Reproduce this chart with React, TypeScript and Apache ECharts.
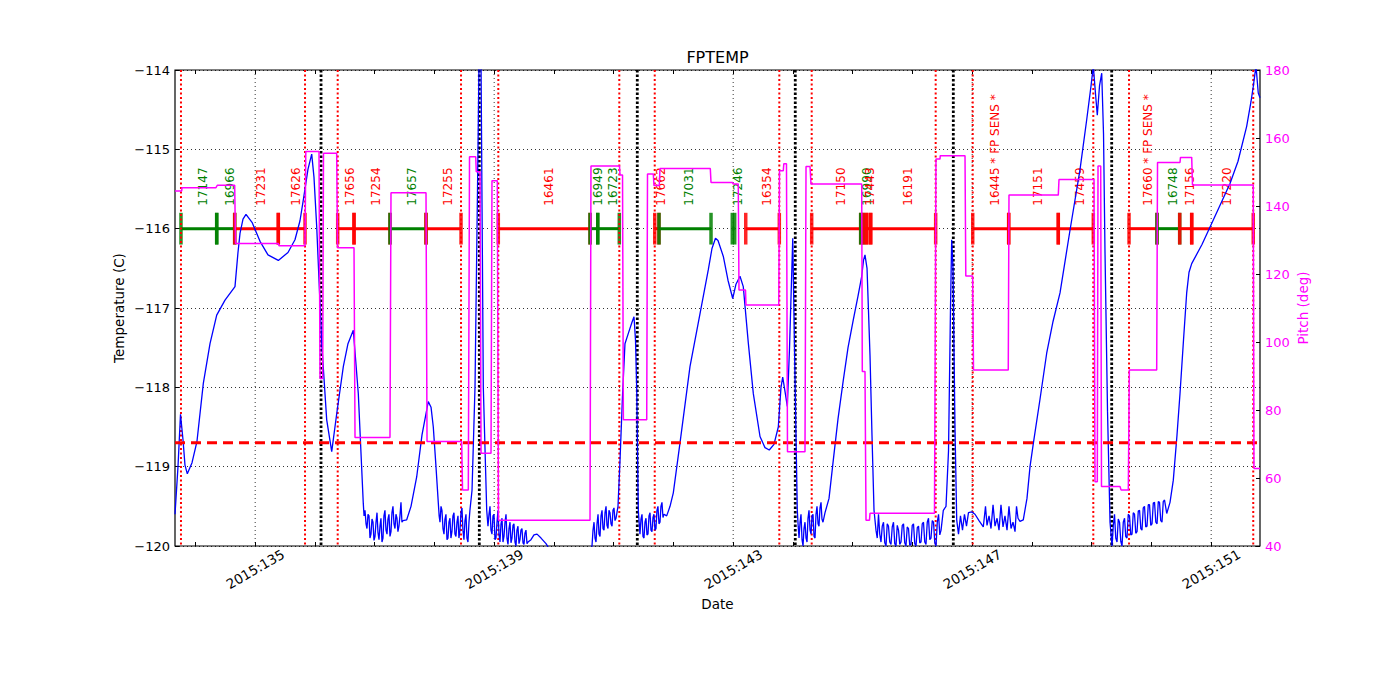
import React, { useEffect, useRef } from "react";
import * as echarts from "echarts";

const FONT = "DejaVu Sans";
const RED = "#ff0000";
const GREEN = "#008000";
const BLUE = "#0000ff";
const MAGENTA = "#ff00ff";

// x axis: day of year 2015 (fractional)
const X_MIN = 133.658;
const X_MAX = 151.817;
const DAY_TICKS = [134, 135, 136, 137, 138, 139, 140, 141, 142, 143, 144, 145, 146, 147, 148, 149, 150, 151];
const LABEL_DAYS = [135, 139, 143, 147, 151];

const TEMP_MIN = -120;
const TEMP_MAX = -114;
const PITCH_MIN = 40;
const PITCH_MAX = 180;
const TEMP_LIMIT = -118.7;
const GANTT_Y = -116;
const LABEL_BASE = -115.71;

// FPTEMP (deg C) vs day
const FPTEMP: [number, number][] = [
  [133.658, -119.6], [133.708, -119.0], [133.750, -118.34], [133.792, -118.66], [133.825, -118.98],
  [133.864, -119.09], [133.943, -118.95], [134.026, -118.68], [134.132, -117.95], [134.244, -117.45],
  [134.356, -117.09], [134.495, -116.9], [134.662, -116.73], [134.712, -116.3], [134.746, -116.06],
  [134.796, -115.88], [134.846, -115.82], [134.947, -115.92], [135.081, -116.16], [135.214, -116.33],
  [135.387, -116.40], [135.549, -116.3], [135.666, -116.14], [135.750, -115.9], [135.805, -115.64],
  [135.884, -115.25], [135.946, -115.06], [135.984, -115.35], [136.030, -115.98], [136.114, -117.45],
  [136.197, -118.41], [136.281, -118.81], [136.365, -118.33], [136.475, -117.74], [136.553, -117.45],
  [136.642, -117.28], [136.726, -118.08], [136.809, -119.46],
  [136.822, -119.62], [136.838, -119.55], [136.855, -119.72], [136.871, -119.78], [136.888, -119.6],
  [136.905, -119.62], [136.921, -119.9], [136.938, -119.85], [136.955, -119.66], [136.972, -119.70],
  [136.988, -119.93], [137.005, -119.88], [137.022, -119.7], [137.039, -119.58], [137.055, -119.83],
  [137.072, -119.92], [137.089, -119.75], [137.105, -119.65], [137.122, -119.95], [137.139, -119.9],
  [137.155, -119.62], [137.172, -119.55], [137.189, -119.8], [137.206, -119.85], [137.222, -119.66],
  [137.239, -119.6], [137.256, -119.88], [137.273, -119.82], [137.289, -119.58], [137.306, -119.5],
  [137.323, -119.72], [137.340, -119.78], [137.356, -119.6], [137.373, -119.65], [137.389, -119.82],
  [137.406, -119.75], [137.423, -119.62], [137.440, -119.45], [137.456, -119.7], [137.473, -119.68],
  [137.536, -119.67], [137.608, -119.5], [137.703, -119.13], [137.792, -118.6], [137.897, -118.18],
  [137.943, -118.25], [137.981, -118.5], [138.026, -119.0], [138.065, -119.46],
  [138.079, -119.62], [138.093, -119.7], [138.110, -119.5], [138.126, -119.55], [138.143, -119.78],
  [138.160, -119.85], [138.176, -119.66], [138.193, -119.6], [138.210, -119.92], [138.227, -119.9],
  [138.243, -119.7], [138.260, -119.65], [138.276, -119.9], [138.293, -119.82], [138.310, -119.62],
  [138.327, -119.58], [138.343, -119.85], [138.360, -119.88], [138.377, -119.7], [138.394, -119.62],
  [138.410, -119.9], [138.427, -119.8], [138.444, -119.58], [138.461, -119.52], [138.477, -119.8],
  [138.494, -119.92], [138.511, -119.68], [138.528, -119.6], [138.544, -119.9], [138.561, -119.95],
  [138.578, -119.7], [138.594, -119.55],
  [138.629, -119.3], [138.679, -118.0], [138.721, -115.5], [138.751, -113.6], [138.779, -113.8],
  [138.818, -118.0], [138.875, -119.55],
  [138.896, -119.75], [138.913, -119.6], [138.930, -119.5], [138.946, -119.8], [138.963, -119.85],
  [138.980, -119.62], [138.997, -119.6], [139.013, -119.92], [139.030, -119.9], [139.047, -119.7],
  [139.064, -119.55], [139.080, -119.85], [139.097, -119.95], [139.114, -119.72], [139.131, -119.65],
  [139.147, -119.95], [139.164, -119.88], [139.181, -119.7], [139.198, -119.6], [139.214, -119.9],
  [139.231, -119.98], [139.248, -119.78], [139.265, -119.7], [139.281, -119.96], [139.298, -119.9],
  [139.315, -119.74], [139.331, -119.72], [139.348, -119.95], [139.365, -120.0], [139.381, -119.8],
  [139.398, -119.75], [139.415, -119.97], [139.432, -119.92], [139.448, -119.8], [139.465, -119.78],
  [139.482, -119.96], [139.499, -119.98], [139.515, -119.84], [139.532, -119.8], [139.549, -119.97],
  [139.566, -119.95],
  [139.616, -119.92], [139.666, -119.86], [139.717, -119.85], [139.784, -119.9], [139.867, -119.97],
  [139.934, -120.05], [140.018, -120.15], [140.269, -120.3], [140.520, -120.25], [140.604, -120.1],
  [140.637, -120.0], [140.654, -119.8], [140.671, -119.7], [140.687, -119.9], [140.704, -119.95],
  [140.721, -119.72], [140.738, -119.6], [140.754, -119.85], [140.771, -119.88], [140.788, -119.62],
  [140.805, -119.55], [140.821, -119.78], [140.838, -119.8], [140.855, -119.58], [140.872, -119.5],
  [140.888, -119.74], [140.905, -119.78], [140.921, -119.55], [140.938, -119.58], [140.955, -119.72],
  [140.972, -119.75], [140.988, -119.55], [141.005, -119.52], [141.022, -119.68], [141.039, -119.65],
  [141.072, -119.5],
  [141.106, -118.92], [141.148, -118.1], [141.189, -117.45], [141.245, -117.32], [141.302, -117.19],
  [141.340, -117.11], [141.365, -117.4], [141.385, -118.0], [141.412, -119.55],
  [141.426, -119.7], [141.440, -119.85], [141.457, -119.66], [141.474, -119.6], [141.490, -119.88],
  [141.507, -119.9], [141.524, -119.7], [141.541, -119.65], [141.557, -119.86], [141.574, -119.85],
  [141.591, -119.62], [141.608, -119.58], [141.624, -119.8], [141.641, -119.82], [141.658, -119.64],
  [141.674, -119.6], [141.691, -119.8], [141.708, -119.78], [141.724, -119.55], [141.741, -119.5],
  [141.758, -119.72], [141.775, -119.7], [141.791, -119.5], [141.808, -119.45], [141.825, -119.64],
  [141.842, -119.6],
  [141.887, -119.62], [141.943, -119.5], [141.998, -119.33], [142.110, -118.7], [142.277, -117.74],
  [142.445, -117.07], [142.583, -116.52], [142.645, -116.25], [142.704, -116.12], [142.746, -116.15],
  [142.835, -116.35], [142.913, -116.65], [142.992, -116.88], [143.047, -116.7], [143.114, -116.6],
  [143.169, -116.73], [143.253, -117.44], [143.337, -118.08], [143.449, -118.62], [143.532, -118.76],
  [143.604, -118.79], [143.683, -118.72], [143.755, -118.5], [143.800, -118.0], [143.829, -117.87],
  [143.867, -118.05], [143.906, -118.24], [143.943, -117.5], [143.997, -116.12], [144.026, -117.5],
  [144.073, -119.55],
  [144.088, -119.75], [144.102, -119.9], [144.119, -119.7], [144.135, -119.6], [144.152, -119.92],
  [144.169, -120.0], [144.185, -119.78], [144.202, -119.7], [144.219, -119.9], [144.236, -119.95],
  [144.252, -119.65], [144.269, -119.55], [144.286, -119.8], [144.303, -119.85], [144.319, -119.62],
  [144.336, -119.6], [144.353, -119.88], [144.370, -119.9], [144.386, -119.6], [144.403, -119.5],
  [144.420, -119.72], [144.436, -119.75], [144.453, -119.52], [144.470, -119.45], [144.486, -119.66],
  [144.503, -119.7],
  [144.537, -119.58], [144.604, -119.4], [144.675, -118.92], [144.754, -118.4], [144.843, -117.91],
  [144.922, -117.5], [145.010, -117.15], [145.089, -116.85], [145.151, -116.6], [145.181, -116.4],
  [145.206, -116.33], [145.240, -116.5], [145.290, -117.6], [145.323, -118.6], [145.357, -119.55],
  [145.390, -119.8], [145.411, -119.9], [145.432, -119.6], [145.453, -119.85], [145.474, -119.95],
  [145.495, -119.75], [145.516, -119.7], [145.537, -119.96], [145.558, -120.0], [145.578, -119.72],
  [145.599, -119.75], [145.620, -119.95], [145.641, -119.98], [145.662, -119.76], [145.683, -119.7],
  [145.704, -119.97], [145.725, -120.0], [145.746, -119.74], [145.767, -119.8], [145.788, -119.98],
  [145.809, -119.95], [145.830, -119.74], [145.851, -119.72], [145.871, -119.96], [145.892, -120.0],
  [145.913, -119.76], [145.934, -119.78], [145.955, -119.99], [145.976, -119.98], [145.997, -119.74],
  [146.018, -119.72], [146.039, -119.97], [146.060, -120.0], [146.081, -119.77], [146.102, -119.75],
  [146.123, -119.96], [146.144, -119.95], [146.164, -119.72], [146.185, -119.7], [146.206, -119.95],
  [146.227, -119.98], [146.248, -119.7], [146.269, -119.65], [146.290, -119.92], [146.311, -119.9],
  [146.332, -119.68], [146.353, -119.7], [146.374, -119.96], [146.395, -120.0], [146.416, -119.7],
  [146.437, -119.6], [146.458, -119.86], [146.479, -119.8],
  [146.517, -119.55], [146.562, -119.5], [146.604, -118.8], [146.637, -117.0], [146.657, -116.14],
  [146.679, -116.5], [146.712, -118.5], [146.741, -119.67],
  [146.771, -119.85], [146.804, -119.62], [146.838, -119.8], [146.871, -119.6], [146.905, -119.75],
  [146.938, -119.58],
  [146.992, -119.57], [147.047, -119.6], [147.114, -119.68], [147.186, -119.76],
  [147.223, -119.5], [147.248, -119.74], [147.282, -119.62], [147.315, -119.78], [147.349, -119.48],
  [147.382, -119.75], [147.416, -119.65], [147.449, -119.8], [147.482, -119.48], [147.516, -119.76],
  [147.549, -119.62], [147.583, -119.8], [147.616, -119.5], [147.650, -119.78], [147.683, -119.7],
  [147.717, -119.82], [147.742, -119.5], [147.767, -119.65],
  [147.800, -119.69], [147.855, -119.67], [147.917, -119.4], [147.968, -119.0], [148.023, -118.71],
  [148.135, -118.15], [148.247, -117.57], [148.353, -117.17], [148.470, -116.81], [148.637, -116.02],
  [148.804, -115.26], [148.916, -114.63], [148.989, -114.2], [149.027, -113.95], [149.064, -114.3],
  [149.094, -114.57], [149.131, -114.2], [149.168, -114.04], [149.198, -114.8], [149.223, -116.3],
  [149.265, -118.3], [149.307, -119.7],
  [149.340, -120.0], [149.361, -119.75], [149.382, -119.6], [149.403, -119.9], [149.424, -119.95],
  [149.445, -119.66], [149.466, -119.7], [149.487, -119.94], [149.508, -120.0], [149.529, -119.7],
  [149.550, -119.65], [149.570, -119.88], [149.591, -119.9], [149.612, -119.6], [149.633, -119.62],
  [149.654, -119.86], [149.675, -119.85], [149.696, -119.58], [149.717, -119.6], [149.738, -119.84],
  [149.759, -119.82], [149.780, -119.56], [149.801, -119.55], [149.822, -119.78], [149.842, -119.8],
  [149.863, -119.52], [149.884, -119.5], [149.905, -119.76], [149.926, -119.75], [149.947, -119.48],
  [149.968, -119.48], [149.989, -119.74], [150.010, -119.72], [150.031, -119.46], [150.052, -119.45],
  [150.073, -119.7], [150.094, -119.72], [150.115, -119.44], [150.135, -119.45], [150.156, -119.68],
  [150.177, -119.7], [150.198, -119.44], [150.219, -119.42],
  [150.256, -119.59], [150.311, -119.45], [150.366, -119.17], [150.428, -118.6], [150.478, -118.08],
  [150.537, -117.4], [150.590, -116.81], [150.629, -116.55], [150.674, -116.44], [150.846, -116.2],
  [151.035, -115.89], [151.181, -115.65], [151.315, -115.43], [151.449, -115.15], [151.594, -114.71],
  [151.666, -114.4], [151.704, -114.21], [151.750, -113.95], [151.788, -114.29], [151.817, -114.35],
];

// Pitch (deg) vs day
const PITCH: [number, number][] = [
  [133.658, 144.4], [133.770, 144.4], [133.775, 145.4], [134.344, 145.4], [134.366, 146.1],
  [134.657, 146.1], [134.671, 129.0], [135.387, 129.0], [135.399, 128.3], [135.834, 128.3],
  [135.847, 156.0], [136.068, 156.0], [136.085, 89.3], [136.130, 89.3], [136.143, 155.5],
  [136.364, 155.5], [136.378, 127.7], [136.654, 127.7], [136.671, 71.9], [137.256, 71.9],
  [137.273, 143.9], [137.859, 143.9], [137.876, 70.7], [138.456, 70.7], [138.470, 56.5],
  [138.567, 56.5], [138.587, 154.5], [138.691, 154.5], [138.700, 150.1], [138.763, 150.1],
  [138.780, 67.3], [138.947, 67.3], [138.963, 147.4], [139.052, 147.4], [139.072, 47.6],
  [140.604, 47.6], [140.620, 151.8], [141.097, 151.8], [141.106, 149.1], [141.148, 149.1],
  [141.162, 77.1], [141.553, 77.1], [141.566, 149.4], [141.663, 149.4], [141.675, 146.0],
  [141.763, 146.0], [141.775, 151.0], [142.617, 151.0], [142.629, 146.9], [142.992, 146.9],
  [142.997, 146.5], [143.085, 146.5], [143.097, 115.3], [143.206, 115.3], [143.214, 110.9],
  [143.763, 110.9], [143.775, 150.4], [143.839, 150.4], [143.847, 152.4], [143.892, 152.4],
  [143.909, 67.7], [144.202, 67.7], [144.219, 151.6], [144.286, 151.6], [144.302, 146.5],
  [145.151, 146.5], [145.161, 91.3], [145.206, 91.3], [145.223, 47.6], [145.281, 47.6],
  [145.290, 49.6], [146.369, 49.6], [146.394, 153.8], [146.461, 153.8], [146.466, 154.8],
  [146.880, 154.8], [146.893, 119.4], [147.008, 119.4], [147.022, 91.8], [147.604, 91.8],
  [147.616, 143.2], [148.441, 143.2], [148.453, 147.8], [149.039, 147.8], [149.055, 58.9],
  [149.094, 58.9], [149.106, 151.8], [149.151, 151.8], [149.164, 57.5], [149.474, 57.5],
  [149.491, 56.5], [149.613, 56.5], [149.630, 91.8], [150.088, 91.8], [150.102, 152.8],
  [150.478, 152.8], [150.486, 154.3], [150.674, 154.3], [150.687, 146.2], [151.704, 146.2],
  [151.716, 62.8], [151.817, 62.8],
];

// Observations (obsid bars at -116)
const OBS_START = [
  133.758, 134.356, 134.657, 135.387, 136.381, 136.654, 137.256, 137.859, 139.069, 140.604,
  140.733, 141.687, 141.758, 142.985, 143.210, 144.314, 145.134, 145.178, 145.235, 145.301,
  147.009, 147.611, 148.441, 149.625, 150.093, 150.473, 150.674,
];
const OBS_STOP = [
  134.356, 134.657, 135.387, 135.834, 136.654, 137.256, 137.859, 138.445, 140.604, 140.733,
  141.094, 141.758, 142.629, 143.025, 143.772, 145.134, 145.178, 145.235, 145.301, 146.389,
  147.611, 148.441, 149.027, 150.093, 150.473, 150.674, 151.704,
];
const OBS_LABEL = [
  "17147", "16966", "17231", "17626", "17656", "17254", "17657", "17255", "16461", "16949",
  "16723", "17662", "17031", "17246", "16354", "17150", "16990", "17443", "", "16191",
  "16445 * FP SENS *", "17151", "17459", "17660 * FP SENS *", "16748", "17156", "17220",
];
const OBS_GREEN = [
  true, true, false, false, false, false, true, false, false, true,
  true, false, true, true, false, false, true, false, false, false,
  false, false, false, false, true, false, false,
];

// vertical markers
const RED_MARKS = [
  133.758, 135.834, 136.381, 138.445, 139.069, 141.094, 141.687, 143.772, 144.314, 146.389,
  147.009, 149.027, 149.625, 151.704,
];
const BLACK_MARKS = [136.102, 138.751, 141.395, 144.039, 146.684, 149.335];
const GRID_DAYS = [135, 139, 143, 147, 151];

function vlineSeries(days: number[], color: string, width: number, dash: number[]) {
  return {
    type: "custom",
    xAxisIndex: 0,
    yAxisIndex: 0,
    silent: true,
    data: days.map((d) => [d]),
    renderItem: (params: any, api: any) => {
      const x = api.coord([api.value(0), -117])[0];
      const cs = params.coordSys;
      return {
        type: "line",
        shape: { x1: x, y1: cs.y, x2: x, y2: cs.y + cs.height },
        style: { stroke: color, lineWidth: width, lineDash: dash, fill: null },
      };
    },
  };
}

export default function App() {
  const ref = useRef<HTMLDivElement>(null);
  useEffect(() => {
    if (!ref.current) return;
    const chart = echarts.init(ref.current, undefined, { renderer: "svg" });
    const minus = (v: number) => (v < 0 ? "\u2212" + Math.abs(v) : String(v));
    const option: any = {
      animation: false,
      backgroundColor: "#ffffff",
      textStyle: { fontFamily: FONT },
      grid: {
        left: 175,
        right: 140,
        top: 70,
        bottom: 154,
        show: true,
        borderColor: "#000",
        borderWidth: 1.2,
        backgroundColor: "transparent",
      },
      xAxis: [
        {
          type: "value",
          position: "bottom",
          min: X_MIN,
          max: X_MAX,
          axisLine: { show: false },
          splitLine: { show: false },
          axisTick: {
            show: true,
            inside: true,
            length: 4,
            customValues: DAY_TICKS,
            lineStyle: { color: "#000", width: 1 },
          },
          axisLabel: {
            customValues: LABEL_DAYS,
            formatter: (v: number) => "2015:" + Math.round(v),
            rotate: 30,
            align: "center",
            verticalAlign: "middle",
            margin: 23,
            fontSize: 13.5,
            color: "#000",
            fontFamily: FONT,
          },
        },
        {
          type: "value",
          position: "top",
          min: X_MIN,
          max: X_MAX,
          axisLine: { show: false },
          splitLine: { show: false },
          axisTick: {
            show: true,
            inside: true,
            length: 4,
            customValues: DAY_TICKS,
            lineStyle: { color: "#000", width: 1 },
          },
          axisLabel: { show: false },
        },
      ],
      yAxis: [
        {
          type: "value",
          position: "left",
          min: TEMP_MIN,
          max: TEMP_MAX,
          interval: 1,
          axisLine: { show: false },
          axisTick: { show: true, inside: true, length: 4, lineStyle: { color: "#000" } },
          axisLabel: { formatter: minus, fontSize: 13, color: "#000", margin: 5, fontFamily: FONT },
          splitLine: { show: true, lineStyle: { color: "#000", width: 0.8, type: [1, 3] } },
        },
        {
          type: "value",
          position: "right",
          min: PITCH_MIN,
          max: PITCH_MAX,
          interval: 20,
          axisLine: { show: false },
          axisTick: { show: true, inside: true, length: 4, lineStyle: { color: "#000" } },
          axisLabel: { fontSize: 13, color: MAGENTA, margin: 5, fontFamily: FONT },
          splitLine: { show: false },
        },
      ],
      graphic: [
        {
          type: "text",
          x: 717.5,
          y: 57,
          style: { text: "FPTEMP", fontSize: 16, fontFamily: FONT, fill: "#000", align: "center", verticalAlign: "middle" },
        },
        {
          type: "text",
          x: 118.5,
          y: 308,
          rotation: Math.PI / 2,
          style: { text: "Temperature (C)", fontSize: 13.5, fontFamily: FONT, fill: "#000", align: "center", verticalAlign: "middle" },
        },
        {
          type: "text",
          x: 1302.5,
          y: 308,
          rotation: Math.PI / 2,
          style: { text: "Pitch (deg)", fontSize: 13.5, fontFamily: FONT, fill: MAGENTA, align: "center", verticalAlign: "middle" },
        },
        {
          type: "text",
          x: 717.5,
          y: 604,
          style: { text: "Date", fontSize: 13.5, fontFamily: FONT, fill: "#000", align: "center", verticalAlign: "middle" },
        },
      ],
      series: [
        vlineSeries(GRID_DAYS, "#000", 0.8, [1, 3]),
        {
          type: "line",
          name: "FPTEMP",
          xAxisIndex: 0,
          yAxisIndex: 0,
          data: FPTEMP,
          showSymbol: false,
          symbol: "none",
          clip: true,
          lineStyle: { color: BLUE, width: 1.3 },
          silent: true,
        },
        {
          type: "line",
          name: "limit",
          xAxisIndex: 0,
          yAxisIndex: 0,
          data: [
            [X_MIN, TEMP_LIMIT],
            [X_MAX, TEMP_LIMIT],
          ],
          showSymbol: false,
          symbol: "none",
          lineStyle: { color: RED, width: 3, type: [10, 6] },
          silent: true,
        },
        {
          type: "custom",
          name: "obsids",
          xAxisIndex: 0,
          yAxisIndex: 0,
          silent: true,
          data: OBS_START.map((s, i) => [s, OBS_STOP[i], i]),
          renderItem: (params: any, api: any) => {
            const i = api.value(2);
            const s = api.value(0);
            const e = api.value(1);
            const color = OBS_GREEN[i] ? GREEN : RED;
            const p0 = api.coord([s, GANTT_Y]);
            const p1 = api.coord([e, GANTT_Y]);
            const top = api.coord([s, GANTT_Y + 0.2])[1];
            const bot = api.coord([s, GANTT_Y - 0.2])[1];
            const lp = api.coord([(s + e) / 2, LABEL_BASE]);
            return {
              type: "group",
              children: [
                {
                  type: "line",
                  shape: { x1: p0[0], y1: p0[1], x2: p1[0], y2: p1[1] },
                  style: { stroke: color, lineWidth: 3 },
                },
                {
                  type: "line",
                  shape: { x1: p0[0], y1: top, x2: p0[0], y2: bot },
                  style: { stroke: color, lineWidth: 3.5, opacity: 0.85 },
                },
                {
                  type: "line",
                  shape: { x1: p1[0], y1: top, x2: p1[0], y2: bot },
                  style: { stroke: color, lineWidth: 3.5, opacity: 0.85 },
                },
                {
                  type: "text",
                  x: lp[0] + 4.5,
                  y: lp[1],
                  rotation: Math.PI / 2,
                  style: {
                    text: OBS_LABEL[i],
                    fill: color,
                    fontSize: 12,
                    fontFamily: FONT,
                    align: "left",
                    verticalAlign: "middle",
                  },
                },
              ],
            };
          },
        },
        vlineSeries(RED_MARKS, RED, 2, [2, 2.5]),
        vlineSeries(BLACK_MARKS, "#000", 2.8, [2.5, 2]),
        {
          type: "line",
          name: "Pitch",
          xAxisIndex: 0,
          yAxisIndex: 1,
          data: PITCH,
          showSymbol: false,
          symbol: "none",
          clip: true,
          lineStyle: { color: MAGENTA, width: 1.5 },
          silent: true,
        },
      ],
    };
    chart.setOption(option);
    return () => chart.dispose();
  }, []);
  return (
    <div
      ref={ref}
      style={{ position: "fixed", left: 0, top: 0, width: 1400, height: 700, background: "#fff" }}
    />
  );
}
